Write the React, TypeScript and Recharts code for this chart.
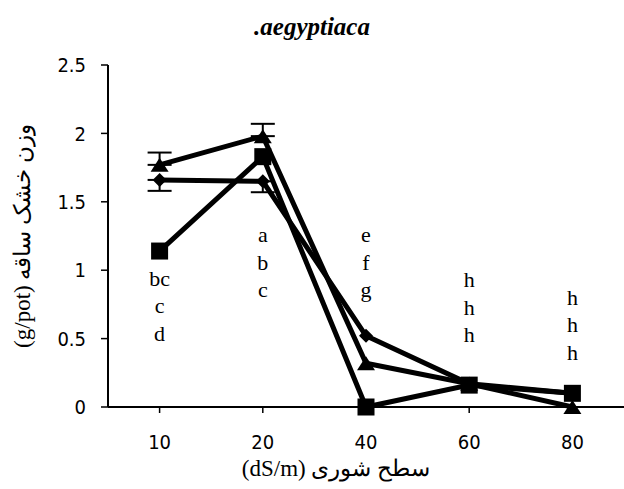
import React from 'react';
import { ComposedChart, Line, Scatter, XAxis, YAxis, ErrorBar, Label } from 'recharts';

// salinity levels (dS/m)
const salinity = ['10', '20', '40', '60', '80'];

// shoot dry weight (g/pot) for the three treatments
const diamondSeries = [1.66, 1.65, 0.52, 0.17, 0.1];
const triangleSeries = [1.77, 1.98, 0.32, 0.17, 0];
const squareSeries = [1.14, 1.83, 0, 0.16, 0.1];

// standard errors (diamond drawn minus-only, triangle plus-only); null = no bar
const diamondErr = [0.08, 0.08, null, null, null];
const triangleErr = [0.09, 0.09, null, null, null];

// mean-separation letters per salinity level, and where the stack starts (g/pot)
const letterGroups = [
    ['bc', 'c', 'd'],
    ['a', 'b', 'c'],
    ['e', 'f', 'g'],
    ['h', 'h', 'h'],
    ['h', 'h', 'h'],
];
const letterAnchor = [0.885, 1.206, 1.206, 0.877, 0.746];

const yTicks = [0, 0.5, 1, 1.5, 2, 2.5];

const data = salinity.map((s, i) => ({
    salinity: s,
    diamond: diamondSeries[i],
    triangle: triangleSeries[i],
    square: squareSeries[i],
    diamondErr: diamondErr[i] == null ? null : [diamondErr[i], 0],
    triangleErr: triangleErr[i] == null ? null : [0, triangleErr[i]],
    letterY: letterAnchor[i],
    letters: letterGroups[i],
}));

const SERIF = '"Liberation Serif", "Times New Roman", "DejaVu Serif", serif';
const NARROW = '"DejaVu Sans Condensed", "Liberation Sans Narrow", "Arial Narrow", sans-serif';

const DiamondDot = (props: any) => {
    const { cx, cy, index } = props;
    if (cx == null || cy == null) return <g key={index} />;
    return <polygon key={index} points={`${cx},${cy - 7} ${cx + 7},${cy} ${cx},${cy + 7} ${cx - 7},${cy}`} fill="#000" />;
};

const TriangleDot = (props: any) => {
    const { cx, cy, index } = props;
    if (cx == null || cy == null) return <g key={index} />;
    return <polygon key={index} points={`${cx},${cy - 7} ${cx + 9},${cy + 7} ${cx - 9},${cy + 7}`} fill="#000" />;
};

const SquareDot = (props: any) => {
    const { cx, cy, index } = props;
    if (cx == null || cy == null) return <g key={index} />;
    return <rect key={index} x={cx - 8.5} y={cy - 8.5} width={17} height={17} fill="#000" />;
};

const LetterStack = (props: any) => {
    const { cx, cy, payload } = props;
    return (
        <g>
            {payload.letters.map((t: string, i: number) => (
                <text key={i} x={cx} y={cy + i * 27.5} textAnchor="middle" fontFamily={SERIF} fontSize={22} fill="#000">
                    {t}
                </text>
            ))}
        </g>
    );
};

export default function App() {
    return (
        <div style={{ position: 'absolute', left: 0, top: 0, width: 624, height: 489, background: '#fff' }}>
            <svg width={624} height={50} style={{ position: 'absolute', left: 0, top: 0 }}>
                <text x={312} y={35} textAnchor="middle" fontFamily={SERIF} fontSize={25} fontWeight="bold" fontStyle="italic" fill="#000">
                    .aegyptiaca
                </text>
            </svg>
            <ComposedChart width={624} height={489} data={data} margin={{ top: 65, right: 0, bottom: 7, left: 0 }}>
                <XAxis
                    dataKey="salinity"
                    type="category"
                    height={75}
                    padding={{ left: 51.6, right: 51.6 }}
                    axisLine={{ stroke: '#000', strokeWidth: 2 }}
                    tickLine={{ stroke: '#000', strokeWidth: 1.5 }}
                    tickSize={6}
                    tickMargin={22}
                    tick={{ fill: '#000', fontSize: 20, fontFamily: NARROW }}
                >
                    <Label
                        content={({ viewBox }: any) => (
                            <text x={336} y={viewBox.y + viewBox.height - 6} textAnchor="middle" fontFamily={SERIF} fontSize={23} fill="#000">
                                (dS/m) سطح شوری
                            </text>
                        )}
                    />
                </XAxis>
                <YAxis
                    width={108}
                    domain={[0, 2.5]}
                    ticks={yTicks}
                    interval={0}
                    axisLine={{ stroke: '#000', strokeWidth: 2 }}
                    tickLine={{ stroke: '#000', strokeWidth: 1.5 }}
                    tickSize={7}
                    tickMargin={15}
                    tick={{ fill: '#000', fontSize: 20, fontFamily: NARROW }}
                >
                    <Label
                        content={({ viewBox }: any) => {
                            const x = viewBox.x + 22;
                            const y = viewBox.y + viewBox.height / 2;
                            return (
                                <text x={x} y={y} transform={`rotate(-90 ${x} ${y})`} textAnchor="middle" dominantBaseline="central" fontFamily={SERIF} fontSize={23} fill="#000">
                                    (g/pot) وزن خشک ساقه
                                </text>
                            );
                        }}
                    />
                </YAxis>
                <Line dataKey="diamond" stroke="#000" strokeWidth={5} dot={DiamondDot} activeDot={false} isAnimationActive={false}>
                    <ErrorBar dataKey="diamondErr" width={12} stroke="#000" strokeWidth={2} isAnimationActive={false} />
                </Line>
                <Line dataKey="triangle" stroke="#000" strokeWidth={5} dot={TriangleDot} activeDot={false} isAnimationActive={false}>
                    <ErrorBar dataKey="triangleErr" width={12} stroke="#000" strokeWidth={2} isAnimationActive={false} />
                </Line>
                <Line dataKey="square" stroke="#000" strokeWidth={5} dot={SquareDot} activeDot={false} isAnimationActive={false} />
                <Scatter dataKey="letterY" shape={LetterStack} isAnimationActive={false} />
            </ComposedChart>
        </div>
    );
}
